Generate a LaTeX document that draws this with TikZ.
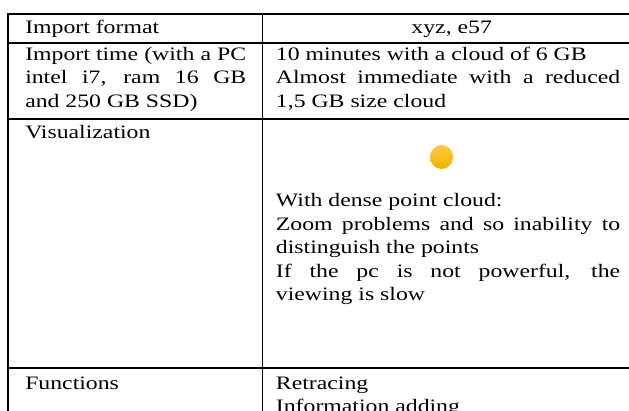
\documentclass[tikz,border=0pt]{standalone}
\usepackage{fontspec}
\setmainfont{Liberation Serif}
\usepackage{tikz}
\usetikzlibrary{positioning}
\definecolor{dotlight}{RGB}{255,204,64}
\definecolor{dotdark}{RGB}{240,176,0}
\tikzset{
  celltext/.style={anchor=base west, inner sep=0pt, xscale=1.25, font=\fontsize{19}{24}\selectfont},
  rule/.style={line width=1.5pt, line cap=rect}
}
\newcommand{\justline}[2]{\makebox[#1][s]{#2}}

\begin{document}
\begin{tikzpicture}[x=1pt,y=-1pt]
      \def\leftx{8}
      \def\midx{262.3}
      \def\rightx{629}
      \def\lefttext{25}
      \def\righttext{275.7}
      \def\leftwidth{176.8pt}
      \def\rightwidth{275.4pt}

      \useasboundingbox (0,0) rectangle (629,410);
      \fill[white] (0,0) rectangle (629,410);

      \foreach \y in {14, 43, 119, 368} {
        \draw[rule] (\leftx,\y) -- (\rightx,\y);
      }
      \draw[rule] (\leftx,14) -- (\leftx,415);
      \draw[rule] (\midx,14) -- (\midx,415);

      \node[celltext] (format) at (\lefttext,33.3) {Import format};
      \node[celltext, anchor=base] (formatval) at (451.7,33.3) {xyz, e57};

      \node[celltext] (time1) at (\lefttext,60) {\justline{\leftwidth}{Import time (with a PC}};
      \node[celltext] (time2) at (\lefttext,83.5) {\justline{\leftwidth}{intel i7, ram 16 GB}};
      \node[celltext] (time3) at (\lefttext,107) {and 250 GB SSD)};
      \node[celltext] (timeval1) at (\righttext,60) {10 minutes with a cloud of 6 GB};
      \node[celltext] (timeval2) at (\righttext,83.5) {\justline{\rightwidth}{Almost immediate with a reduced}};
      \node[celltext] (timeval3) at (\righttext,107) {1,5 GB size cloud};

      \node[celltext] (visual) at (\lefttext,138.3) {Visualization};
      \shade[top color=dotlight, bottom color=dotdark] (441.5,157) ellipse (11.5 and 12);
      \node[celltext] (visual1) at (\righttext,206.7) {With dense point cloud:};
      \node[celltext] (visual2) at (\righttext,230.2) {\justline{\rightwidth}{Zoom problems and so inability to}};
      \node[celltext] (visual3) at (\righttext,253.7) {distinguish the points};
      \node[celltext] (visual4) at (\righttext,277.2) {\justline{\rightwidth}{If the pc is not powerful, the}};
      \node[celltext] (visual5) at (\righttext,300.7) {viewing is slow};

      \node[celltext] (func) at (\lefttext,389) {Functions};
      \node[celltext] (func1) at (\righttext,389) {Retracing};
      \node[celltext] (func2) at (\righttext,412) {Information adding};
    \end{tikzpicture}
\end{document}
